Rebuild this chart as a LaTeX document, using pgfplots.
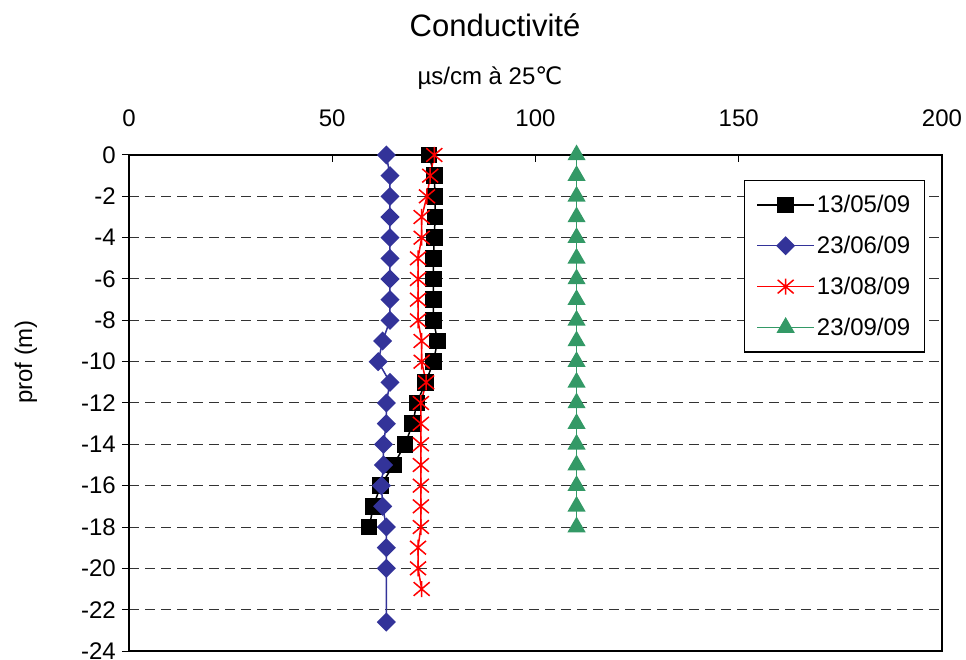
\documentclass[border=0pt]{standalone}
\usepackage{pgfplots}
\pgfplotsset{compat=1.18}
\usepackage{fontspec}
\setmainfont{Liberation Sans}
\newfontfamily\dejavu{DejaVu Sans}
\definecolor{cblue}{HTML}{333399}
\definecolor{cred}{HTML}{FF0000}
\definecolor{cgreen}{HTML}{339966}
\pgfdeclareplotmark{xstar}{%
  \pgfpathmoveto{\pgfqpoint{0pt}{\pgfplotmarksize}}%
  \pgfpathlineto{\pgfqpoint{0pt}{-\pgfplotmarksize}}%
  \pgfpathmoveto{\pgfqpoint{-\pgfplotmarksize}{0.85\pgfplotmarksize}}%
  \pgfpathlineto{\pgfqpoint{\pgfplotmarksize}{-0.85\pgfplotmarksize}}%
  \pgfpathmoveto{\pgfqpoint{-\pgfplotmarksize}{-0.85\pgfplotmarksize}}%
  \pgfpathlineto{\pgfqpoint{\pgfplotmarksize}{0.85\pgfplotmarksize}}%
  \pgfusepathqstroke}
\begin{document}
\begin{tikzpicture}[x=1pt,y=1pt]
\useasboundingbox (-129,-8) rectangle (837,651);
\begin{axis}[
  scale only axis, width=813pt, height=496pt,
  at={(0,0)}, anchor=south west,
  xmin=0, xmax=200, ymin=-24, ymax=0,
  xtick={0,50,100,150,200},
  ytick={0,-2,...,-24},
  xtick pos=right, xticklabel pos=right,
  ytick pos=left,
  tick align=inside,
  major tick length=7pt,
  ytick style={xshift=-7pt, line width=1pt, black},
  xtick style={line width=1pt, black},
  /pgf/number format/assume math mode=true,
  tick label style={font=\fontsize{24}{28}\selectfont},
  xticklabel style={inner sep=0pt, yshift=28pt},
  yticklabel style={inner sep=0pt, xshift=-13pt},
  axis line style={line width=1.3pt, black},
  ymajorgrids,
  major grid style={black!80, line width=1pt, dash pattern=on 10pt off 6pt},
  legend style={at={(0.979,0.95)}, anchor=north east, draw=black, line width=1.2pt,
    font=\fontsize{24}{28}\selectfont, row sep=18pt, inner xsep=12pt, inner ysep=13pt,
    nodes={inner sep=2pt}},
  legend cell align=left,
  legend image code/.code={\draw[mark repeat=2,mark phase=2] plot coordinates {(0pt,0pt) (28.5pt,0pt) (57pt,0pt)};},
]
\addplot[black, line width=1.5pt, mark=square*, mark size=7.5pt, mark options={solid,fill=black}]
coordinates {(73.8,0) (75.1,-1) (75.3,-2) (75.3,-3) (75.1,-4) (74.9,-5) (74.9,-6) (74.9,-7) (74.9,-8) (75.9,-9) (74.9,-10) (73.0,-11) (70.8,-12) (69.8,-13) (67.9,-14) (65.1,-15) (61.9,-16) (60.1,-17) (59.1,-18)};
\addlegendentry{13/05/09}
\addplot[cblue, line width=1.5pt, mark=square*, mark size=6pt, mark options={solid,fill=cblue,rotate=45}]
coordinates {(63.3,0) (64.2,-1) (64.2,-2) (64.2,-3) (64.2,-4) (64.2,-5) (64.2,-6) (64.2,-7) (64.2,-8) (62.4,-9) (61.3,-10) (64.2,-11) (63.3,-12) (63.3,-13) (62.6,-14) (62.6,-15) (62.1,-16) (62.4,-17) (63.3,-18) (63.3,-19) (63.3,-20) (63.3,-22.6)};
\addlegendentry{23/06/09}
\addplot[cred, line width=1.5pt, mark=xstar, mark size=8pt, mark options={solid,line width=1.5pt}]
coordinates {(75.1,0) (74.1,-1) (73.3,-2) (72.0,-3) (72.0,-4) (71.1,-5) (71.1,-6) (71.1,-7) (71.1,-8) (72.0,-9) (72.0,-10) (73.1,-11) (71.8,-12) (71.8,-13) (71.8,-14) (71.8,-15) (71.8,-16) (71.8,-17) (71.8,-18) (71.1,-19) (71.1,-20) (72.0,-21)};
\addlegendentry{13/08/09}
\addplot[cgreen, line width=1.5pt, mark=triangle*, mark size=9pt, mark options={solid,fill=cgreen}]
coordinates {(110.1,0) (110.1,-1) (110.1,-2) (110.1,-3) (110.1,-4) (110.1,-5) (110.1,-6) (110.1,-7) (110.1,-8) (110.1,-9) (110.1,-10) (110.1,-11) (110.1,-12) (110.1,-13) (110.1,-14) (110.1,-15) (110.1,-16) (110.1,-17) (110.1,-18)};
\addlegendentry{23/09/09}
\end{axis}
\node[font=\fontsize{31}{36}\selectfont] at (366,626) {Conductivité};
\node[font=\fontsize{24}{28}\selectfont] at (361,573) {µs/cm à 25{\dejavu ℃}};
\node[font=\fontsize{24}{28}\selectfont, rotate=90] at (-103,289) {prof (m)};
\end{tikzpicture}
\end{document}
